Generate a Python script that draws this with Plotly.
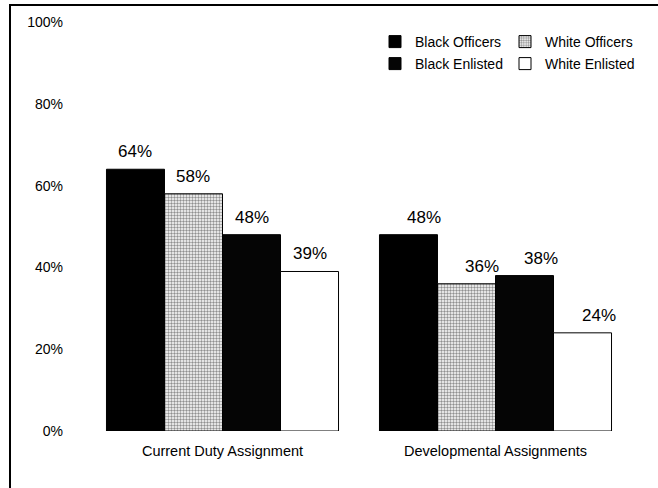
import plotly.graph_objects as go

categories = ["Current Duty Assignment", "Developmental Assignments"]
series_names = ["Black Officers", "White Officers", "Black Enlisted", "White Enlisted"]
black_officers = [64, 48]
white_officers = [58, 36]
black_enlisted = [48, 38]
white_enlisted = [39, 24]
y_tick_vals = [0, 20, 40, 60, 80, 100]
y_tick_text = ["0%", "20%", "40%", "60%", "80%", "100%"]

series_values = [black_officers, white_officers, black_enlisted, white_enlisted]
FONT = "Liberation Sans, Arial, sans-serif"

styles = [
    dict(color="#000000", line=dict(color="#000000", width=1)),
    dict(color="#ffffff", line=dict(color="#000000", width=1),
         pattern=dict(shape=".", fgcolor="#222222", bgcolor="#ffffff", size=3, solidity=0.5)),
    dict(color="#050505", line=dict(color="#000000", width=1)),
    dict(color="#ffffff", line=dict(color="#000000", width=1)),
]
legend_ids = ["legend", "legend", "legend2", "legend2"]

x_pos = list(range(len(categories)))
fig = go.Figure()
for name, vals, st, lg in zip(series_names, series_values, styles, legend_ids):
    fig.add_trace(go.Bar(x=x_pos, y=vals, name=name, marker=st, legend=lg))

bargap = 0.15
n = len(series_names)
bw = (1 - bargap) / n
for i, vals in enumerate(series_values):
    off = -(1 - bargap) / 2 + bw * (i + 0.5)
    for j, v in enumerate(vals):
        fig.add_annotation(x=j + off, y=v, text=f"{v}%", showarrow=False,
                           yanchor="bottom", yshift=6, xshift=(0 if j == 0 else 16),
                           font=dict(family=FONT, size=17, color="#000"))

W, H = 658, 488
plot_left, plot_right, plot_top, plot_bottom = 86, 632, 22, 431
ml, mt = plot_left, plot_top
mr, mb = W - plot_right, H - plot_bottom
pw = plot_right - plot_left
ph = plot_bottom - plot_top

def px(x):
    return (x - plot_left) / pw

def py(y):
    return (plot_bottom - y) / ph

fig.add_shape(type="rect", xref="paper", yref="paper",
              x0=px(10), x1=px(W + 20), y0=py(H + 20), y1=py(5),
              line=dict(color="#000", width=2), fillcolor="rgba(0,0,0,0)", layer="above")

legend_common = dict(orientation="h", xanchor="left", yanchor="middle",
                     entrywidth=85, itemwidth=30, bgcolor="rgba(0,0,0,0)",
                     font=dict(family=FONT, size=14, color="#000"))

fig.update_layout(
    width=W, height=H,
    margin=dict(l=ml, r=mr, t=mt, b=mb, autoexpand=False),
    paper_bgcolor="white", plot_bgcolor="white",
    barmode="group", bargap=bargap, bargroupgap=0,
    font=dict(family=FONT, size=14, color="#000"),
    showlegend=True,
    legend=dict(x=px(375), y=py(42), **legend_common),
    legend2=dict(x=px(375), y=py(64), **legend_common),
    xaxis=dict(range=[-0.5, 1.5], tickvals=x_pos, ticktext=categories,
               showgrid=False, zeroline=False, showline=False, ticks="",
               automargin=False, ticklabelstandoff=9, tickfont=dict(size=14.5)),
    yaxis=dict(range=[0, 100], tickvals=y_tick_vals, ticktext=y_tick_text,
               showgrid=False, zeroline=False, showline=False, ticks="",
               automargin=False, ticklabelstandoff=22, tickfont=dict(size=14)),
)

fig.write_html("out.html", config={"displayModeBar": False},
               post_script="document.body.style.margin='0';")
